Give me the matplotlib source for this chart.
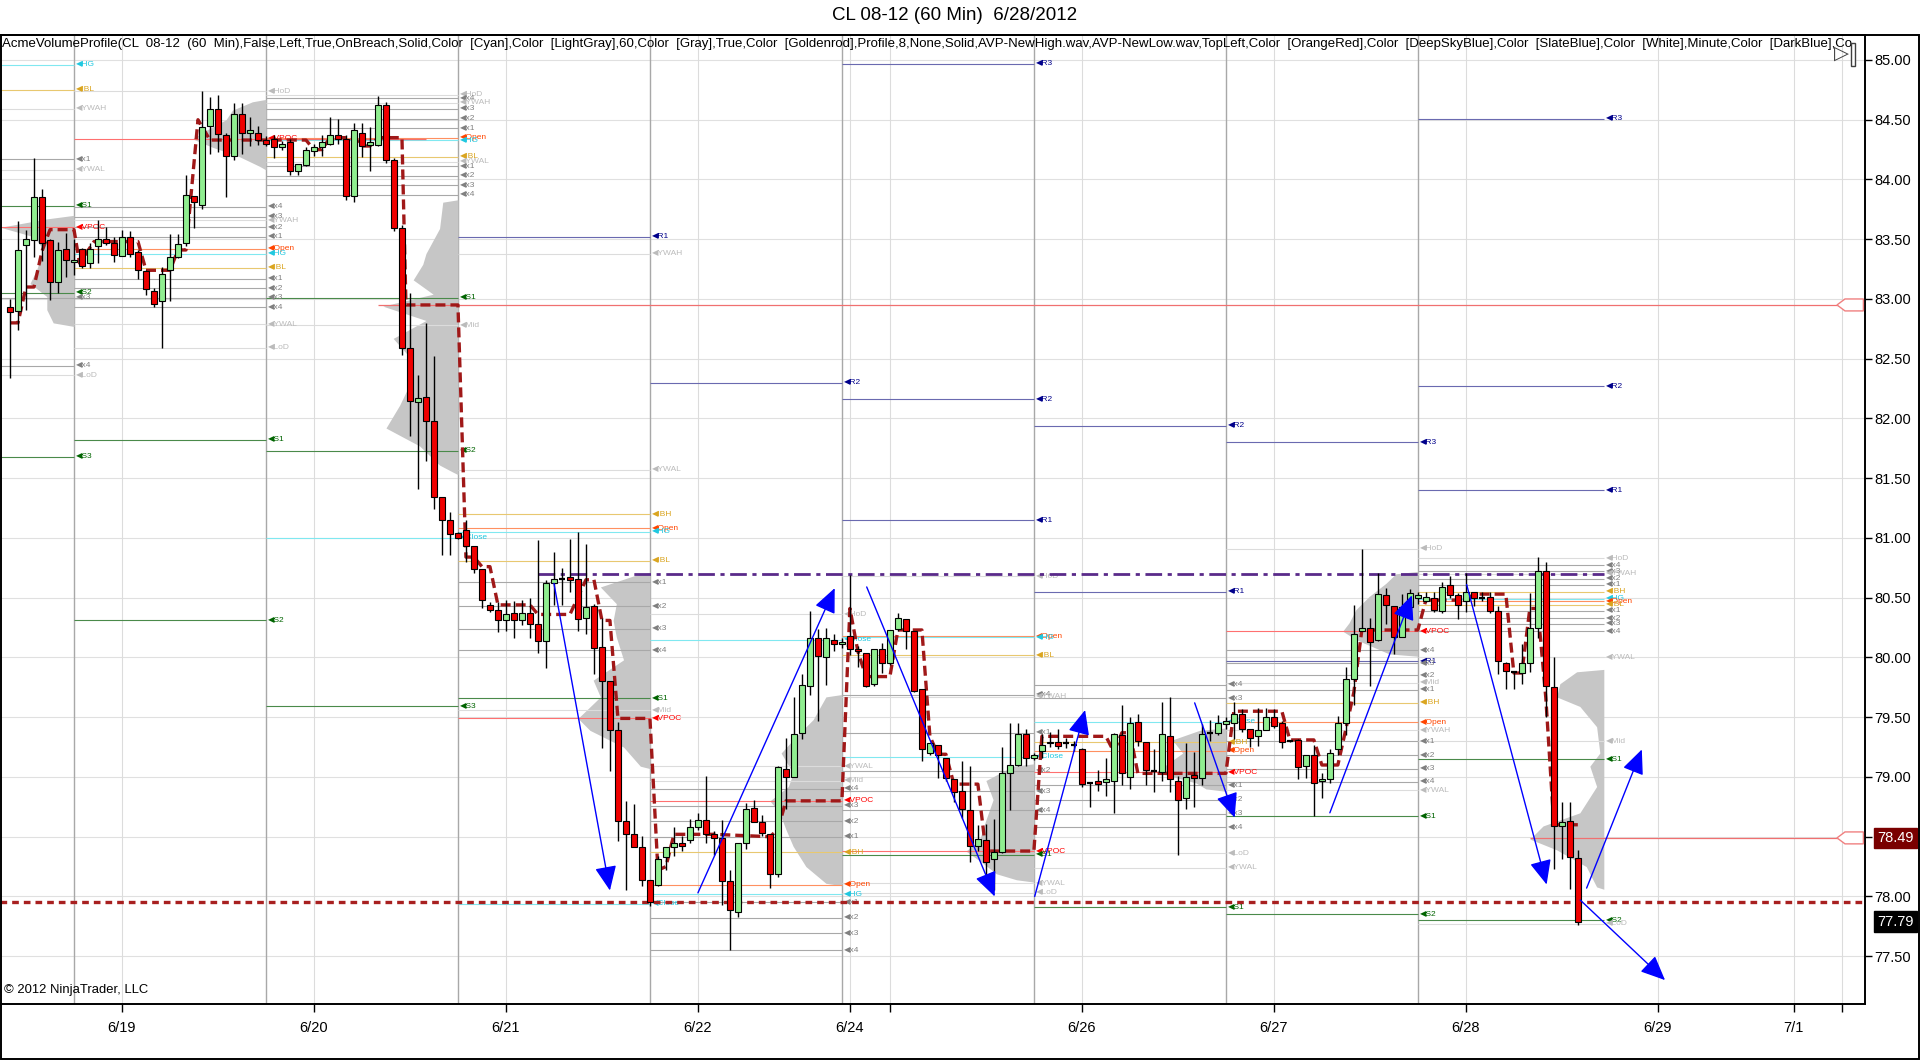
import numpy as np
import matplotlib.pyplot as plt
from matplotlib.patches import Rectangle, Polygon

plt.rcParams['font.family'] = ['Liberation Sans', 'DejaVu Sans']

# bars are hourly, x = hours since the 6/18 18:00 session open
bar_h = np.arange(-8, 189)

opens = [82.93, 82.90, 83.45, 83.49, 83.85, 83.49, 83.14, 83.42,
         83.31, 83.42, 83.30, 83.44, 83.50, 83.47, 83.36, 83.52, 83.39, 83.23,
         83.07, 82.98, 83.24, 83.35, 83.47, 83.86, 83.79, 84.45, 84.59, 84.37,
         84.20, 84.55, 84.39, 84.39, 84.33, 84.34, 84.27, 84.31, 84.07, 84.12,
         84.24, 84.27, 84.30, 84.37, 84.34, 83.86, 84.39, 84.29, 84.29, 84.62,
         84.16, 83.59, 82.59, 82.14, 82.18, 81.98, 81.34, 81.15, 81.04, 81.07,
         80.93, 80.74, 80.44, 80.40, 80.31, 80.37, 80.31, 80.37, 80.28, 80.14,
         80.62, 80.66, 80.67, 80.66, 80.33, 80.43, 80.09, 79.80, 79.39, 78.63,
         78.52, 78.41, 78.14, 78.10, 78.33, 78.41, 78.45, 78.47, 78.58, 78.64,
         78.52, 78.49, 78.13, 77.87, 78.45, 78.74, 78.62, 78.52, 78.19, 79.07,
         79.00, 79.37, 79.76, 80.16, 80.00, 80.15, 80.11, 80.18, 80.07, 80.04,
         79.78, 80.07, 79.95, 80.24, 80.32, 80.22, 79.74, 79.20, 79.27, 79.16,
         78.98, 78.88, 78.72, 78.42, 78.47, 78.31, 78.37, 79.03, 79.10, 79.36,
         79.16, 79.22, 79.28, 79.29, 79.28, 79.27, 79.23, 78.95, 78.97, 78.96,
         78.97, 79.35, 79.00, 79.46, 79.29, 79.05, 79.04, 79.34, 78.97, 78.82,
         79.02, 78.99, 79.37, 79.37, 79.44, 79.45, 79.53, 79.40, 79.34, 79.39,
         79.50, 79.45, 79.30, 79.31, 79.09, 79.18, 78.97, 78.98, 79.23, 79.45,
         79.82, 80.22, 80.25, 80.15, 80.52, 80.43, 80.17, 80.42, 80.50, 80.47,
         80.50, 80.39, 80.61, 80.52, 80.47, 80.55, 80.50, 80.51, 80.39, 79.95,
         79.88, 79.87, 79.95, 80.25, 80.72, 79.75, 78.59, 78.63, 78.32]
highs = [83.00, 83.65, 83.58, 84.18, 83.92, 83.50, 83.48, 83.55,
         83.50, 83.43, 83.47, 83.66, 83.60, 83.52, 83.58, 83.57, 83.41, 83.24,
         83.09, 83.27, 83.54, 83.54, 84.04, 83.86, 84.74, 84.69, 84.71, 84.39,
         84.64, 84.64, 84.52, 84.45, 84.36, 84.37, 84.32, 84.34, 84.13, 84.27,
         84.30, 84.37, 84.52, 84.51, 84.37, 84.47, 84.47, 84.44, 84.70, 84.65,
         84.18, 83.62, 83.05, 82.36, 82.80, 82.52, 81.34, 81.22, 81.05, 81.15,
         80.93, 80.74, 80.46, 80.46, 80.48, 80.47, 80.48, 80.50, 80.98, 80.65,
         80.88, 80.75, 80.99, 81.05, 80.95, 80.45, 80.33, 79.80, 79.46, 78.80,
         78.77, 78.51, 78.14, 78.34, 78.41, 78.58, 78.51, 78.65, 78.70, 79.01,
         78.55, 78.64, 78.22, 78.45, 78.78, 78.81, 78.68, 78.52, 79.09, 79.33,
         79.67, 79.86, 80.39, 80.24, 80.25, 80.20, 80.16, 80.69, 80.10, 80.04,
         80.07, 80.12, 80.23, 80.37, 80.32, 80.22, 79.74, 79.28, 79.27, 79.16,
         78.98, 79.13, 79.09, 78.60, 78.61, 78.65, 79.25, 79.45, 79.45, 79.40,
         79.20, 79.36, 79.38, 79.40, 79.33, 79.30, 79.24, 78.96, 79.06, 79.16,
         79.37, 79.60, 79.50, 79.53, 79.29, 79.23, 79.63, 79.67, 79.01, 79.28,
         79.21, 79.44, 79.48, 79.52, 79.50, 79.63, 79.57, 79.40, 79.58, 79.58,
         79.57, 79.47, 79.31, 79.32, 79.18, 79.27, 79.03, 79.23, 79.51, 79.92,
         80.44, 80.91, 80.33, 80.71, 80.58, 80.43, 80.53, 80.57, 80.55, 80.55,
         80.55, 80.63, 80.68, 80.54, 80.71, 80.55, 80.55, 80.55, 80.43, 79.96,
         79.89, 80.11, 80.54, 80.84, 80.80, 80.00, 78.79, 78.79, 78.39]
lows = [82.34, 82.74, 82.91, 83.35, 83.32, 82.99, 83.05, 83.18,
        83.20, 83.26, 83.26, 83.30, 83.45, 83.31, 83.36, 83.35, 83.17, 83.03,
        82.93, 82.59, 82.98, 83.34, 83.44, 83.59, 83.75, 84.21, 84.23, 83.85,
        84.16, 84.21, 84.28, 84.29, 84.28, 84.18, 84.25, 84.04, 84.04, 84.11,
        84.20, 84.20, 84.29, 84.30, 83.83, 83.81, 84.19, 84.07, 84.28, 84.14,
        83.57, 82.53, 81.85, 81.41, 81.64, 81.24, 80.86, 80.86, 80.99, 80.80,
        80.71, 80.41, 80.38, 80.21, 80.22, 80.16, 80.27, 80.16, 80.04, 79.91,
        80.44, 80.44, 80.55, 80.22, 80.20, 79.86, 79.24, 79.05, 78.46, 78.05,
        78.41, 78.09, 77.92, 78.09, 78.22, 78.34, 78.38, 78.45, 78.56, 78.45,
        78.35, 77.93, 77.55, 77.83, 78.40, 78.62, 78.51, 78.07, 78.16, 78.73,
        79.00, 79.32, 79.69, 79.47, 79.77, 80.05, 80.08, 80.02, 79.92, 79.75,
        79.76, 79.87, 79.94, 80.22, 80.07, 79.71, 79.13, 79.18, 78.99, 78.97,
        78.79, 78.66, 78.29, 78.38, 78.12, 78.05, 78.36, 78.72, 79.09, 79.09,
        79.14, 79.16, 79.25, 79.23, 79.24, 79.22, 78.92, 78.75, 78.88, 78.84,
        78.70, 78.93, 78.90, 79.26, 78.93, 78.87, 78.97, 78.87, 78.35, 78.73,
        78.75, 78.93, 79.30, 79.35, 79.40, 79.32, 79.38, 79.25, 79.26, 79.39,
        79.41, 79.24, 79.29, 78.98, 78.99, 78.67, 78.82, 78.95, 79.18, 79.35,
        79.60, 80.22, 79.76, 80.14, 80.28, 80.03, 80.17, 80.40, 80.45, 80.46,
        80.38, 80.37, 80.50, 80.32, 80.38, 80.43, 80.47, 80.37, 79.86, 79.74,
        79.74, 79.78, 79.88, 80.16, 79.50, 78.23, 78.31, 78.06, 77.76]
closes = [82.89, 83.41, 83.50, 83.85, 83.47, 83.14, 83.41, 83.33,
          83.33, 83.28, 83.42, 83.50, 83.47, 83.37, 83.52, 83.38, 83.24, 83.08,
          82.96, 83.21, 83.35, 83.46, 83.87, 83.81, 84.44, 84.59, 84.38, 84.20,
          84.55, 84.39, 84.41, 84.33, 84.30, 84.27, 84.30, 84.07, 84.13, 84.25,
          84.27, 84.31, 84.37, 84.34, 83.86, 84.41, 84.28, 84.31, 84.62, 84.16,
          83.59, 82.59, 82.15, 82.17, 81.98, 81.34, 81.15, 81.03, 81.00, 80.93,
          80.74, 80.48, 80.40, 80.31, 80.36, 80.31, 80.37, 80.28, 80.14, 80.62,
          80.66, 80.66, 80.65, 80.32, 80.42, 80.08, 79.80, 79.39, 78.63, 78.52,
          78.41, 78.14, 77.95, 78.31, 78.41, 78.45, 78.42, 78.58, 78.64, 78.52,
          78.49, 78.13, 77.89, 78.45, 78.73, 78.62, 78.53, 78.19, 79.08, 79.00,
          79.36, 79.77, 80.16, 80.01, 80.16, 80.11, 80.13, 80.07, 80.05, 79.76,
          80.07, 79.95, 80.23, 80.33, 80.22, 79.72, 79.23, 79.28, 79.18, 78.99,
          78.87, 78.73, 78.42, 78.48, 78.29, 78.37, 79.03, 79.10, 79.36, 79.16,
          79.18, 79.27, 79.29, 79.26, 79.28, 79.27, 78.94, 78.95, 78.94, 78.98,
          79.36, 79.03, 79.45, 79.30, 79.06, 79.05, 79.36, 78.98, 78.81, 79.00,
          78.99, 79.36, 79.37, 79.45, 79.47, 79.53, 79.40, 79.33, 79.39, 79.50,
          79.43, 79.29, 79.30, 79.08, 79.18, 78.95, 78.98, 79.20, 79.45, 79.82,
          80.20, 80.25, 80.13, 80.53, 80.44, 80.17, 80.42, 80.54, 80.52, 80.51,
          80.40, 80.59, 80.52, 80.44, 80.55, 80.50, 80.50, 80.39, 79.97, 79.89,
          79.88, 79.95, 80.25, 80.72, 79.76, 78.59, 78.62, 78.33, 77.79]

# developing VPOC (dashed dark red)
vpoc_h = [-8, -7, -6, -5, -4, -3, 0, 0.7, 2.5, 8, 9, 12, 13, 14, 15.5, 17, 29, 30, 31, 32,
          35, 36, 37, 38, 41, 41.5, 48, 49, 50, 51, 52, 53, 57, 58, 62, 64, 65, 66, 67, 68,
          72, 73, 74, 75, 80, 87, 88, 89, 96, 97, 98, 99, 102, 103, 106, 107, 108, 109, 110,
          113, 114, 120, 121, 129, 130, 131, 132, 133, 144, 145, 151, 152, 155, 156, 158,
          159, 160, 161, 168, 169, 174, 175, 179, 180, 181, 182, 183, 184, 185, 188]
vpoc_p = [82.80, 82.80, 83.10, 83.10, 83.40, 83.58, 83.58, 83.30, 83.48, 83.48, 83.24, 83.24,
          83.41, 83.41, 84.50, 84.33, 84.33, 84.25, 84.25, 84.35, 84.35, 84.28, 84.28, 84.35,
          84.35, 82.95, 82.95, 80.84, 80.84, 80.76, 80.76, 80.44, 80.44, 80.36, 80.36, 80.65,
          80.65, 80.31, 80.31, 79.49, 79.49, 78.22, 78.25, 78.52, 78.52, 78.50, 78.56, 78.80,
          78.80, 80.41, 80.05, 79.84, 79.84, 80.23, 80.23, 79.34, 79.19, 79.19, 78.94, 78.94,
          78.38, 78.38, 79.34, 79.34, 79.21, 79.37, 79.37, 79.03, 79.03, 79.55, 79.55, 79.31,
          79.31, 79.10, 79.10, 79.40, 79.71, 80.23, 80.23, 80.48, 80.48, 80.53, 80.53, 79.87,
          79.87, 80.41, 80.41, 79.66, 78.60, 78.60]

# session level labels, one list pair per session line
col00_p = [84.96, 84.75, 84.59, 84.17, 84.08, 83.78, 83.60, 83.05, 83.01, 82.44, 82.36, 81.68]
col00_t = ['HG', 'IBL', 'YWAH', 'x1', 'YWAL', 'S1', 'VPOC', 'S2', 'x3', 'x4', 'LoD', 'S3']
col24_p = [84.74, 84.34, 83.77, 83.69, 83.66, 83.60, 83.52, 83.42, 83.38, 83.26, 83.17, 83.09,
           83.01, 82.93, 82.79, 82.59, 81.82, 80.31]
col24_t = ['HoD', 'VPOC', 'x4', 'x3', 'YWAH', 'x2', 'x1', 'Open', 'HG', 'IBL', 'x1', 'x2',
           'x3', 'x4', 'YWAL', 'LoD', 'S1', 'S2']
col48_p = [84.71, 84.68, 84.64, 84.59, 84.51, 84.43, 84.35, 84.33, 84.19, 84.15, 84.11, 84.03,
           83.95, 83.87, 83.01, 82.78, 81.73, 81.00, 79.59]
col48_t = ['HoD', 'x4', 'YWAH', 'x3', 'x2', 'x1', 'Open', 'HG', 'IBL', 'YWAL', 'x1', 'x2',
           'x3', 'x4', 'S1', 'Mid', 'S2', 'Close', 'S3']
col72_p = [83.52, 83.38, 81.57, 81.20, 81.08, 81.05, 80.81, 80.63, 80.43, 80.24, 80.06, 79.66,
           79.56, 79.49, 77.94]
col72_t = ['R1', 'YWAH', 'YWAL', 'IBH', 'Open', 'HG', 'IBL', 'x1', 'x2', 'x3', 'x4', 'S1',
           'Mid', 'VPOC', 'Close']
col96_p = [82.30, 80.36, 80.15, 79.09, 78.97, 78.90, 78.80, 78.76, 78.63, 78.50, 78.37, 78.10,
           78.02, 77.95, 77.82, 77.69, 77.55]
col96_t = ['R2', 'HoD', 'Close', 'YWAL', 'Mid', 'x4', 'VPOC', 'x3', 'x2', 'x1', 'IBH', 'Open',
           'HG', 'x1', 'x2', 'x3', 'x4']
col120_p = [84.97, 82.16, 81.15, 80.68, 80.18, 80.17, 80.02, 79.69, 79.67, 79.37, 79.17, 79.05,
            78.88, 78.72, 78.38, 78.35, 78.11, 78.03]
col120_t = ['R3', 'R2', 'R1', 'HoD', 'Open', 'HG', 'IBL', 'x4', 'YWAH', 'x1', 'Close', 'x2',
            'x3', 'x4', 'VPOC', 'S1', 'YWAL', 'LoD']
col144_p = [81.94, 80.55, 79.77, 79.66, 79.46, 79.29, 79.22, 79.04, 78.93, 78.81, 78.69, 78.58,
            78.36, 78.24, 77.91]
col144_t = ['R2', 'R1', 'x4', 'x3', 'Close', 'IBH', 'Open', 'VPOC', 'x1', 'x2', 'x3', 'x4',
            'LoD', 'YWAL', 'S1']
col168_p = [81.80, 80.91, 80.22, 80.06, 79.97, 79.95, 79.85, 79.79, 79.73, 79.62, 79.46, 79.39,
            79.30, 79.18, 79.07, 78.96, 78.89, 78.67, 77.85]
col168_t = ['R3', 'HoD', 'VPOC', 'x4', 'R1', 'x3', 'x2', 'Mid', 'x1', 'IBH', 'Open', 'YWAH',
            'x1', 'x2', 'x3', 'x4', 'YWAL', 'S1', 'S2']
col191_p = [84.51, 82.27, 81.40, 80.83, 80.77, 80.72, 80.70, 80.66, 80.61, 80.55, 80.49, 80.47,
            80.44, 80.39, 80.33, 80.28, 80.22, 80.00, 79.30, 79.15, 77.80, 77.77]
col191_t = ['R3', 'R2', 'R1', 'HoD', 'x4', 'x3', 'YWAH', 'x2', 'x1', 'IBH', 'HG', 'Open', 'IBL',
            'x1', 'x2', 'x3', 'x4', 'YWAL', 'Mid', 'S1', 'S2', 'LoD']

col_h = [0, 24, 48, 72, 96, 120, 144, 168, 191.25]
col_prices = [col00_p, col24_p, col48_p, col72_p, col96_p, col120_p, col144_p, col168_p, col191_p]
col_texts = [col00_t, col24_t, col48_t, col72_t, col96_t, col120_t, col144_t, col168_t, col191_t]

# volume profiles: anchor (right edge), price levels, width in bars
prof_anchor = [0, 24, 48, 72, 96, 120, 144, 168, 191.25]
prof_p = [
    [83.70, 83.67, 83.60, 83.52, 83.41, 83.24, 83.13, 83.02, 82.91, 82.80, 82.77],
    [84.67, 84.65, 84.58, 84.50, 84.41, 84.34, 84.27, 84.19, 84.11, 84.08],
    [83.83, 83.81, 83.59, 83.38, 83.29, 83.16, 83.04, 82.94, 82.82, 82.67, 82.48, 82.29,
     82.11, 81.92, 81.77, 81.61, 81.55, 81.53],
    [80.71, 80.69, 80.59, 80.45, 80.31, 80.17, 79.98, 79.81, 79.67, 79.49, 79.39, 79.25,
     79.09, 79.07],
    [79.69, 79.67, 79.48, 79.34, 79.20, 79.03, 78.92, 78.80, 78.70, 78.56, 78.42, 78.25,
     78.11, 78.09],
    [79.11, 79.09, 78.97, 78.81, 78.64, 78.47, 78.38, 78.28, 78.19, 78.14, 78.12],
    [79.41, 79.39, 79.31, 79.20, 79.04, 78.95, 78.90, 78.88],
    [80.72, 80.70, 80.62, 80.51, 80.40, 80.29, 80.22, 80.15, 80.03, 80.01],
    [79.90, 79.88, 79.78, 79.67, 79.59, 79.42, 79.20, 79.09, 78.92, 78.70, 78.59, 78.48,
     78.39, 78.25, 78.08, 78.06],
]
prof_w = [
    [0, 3.4, 9.2, 5.0, 3.8, 4.7, 5.5, 3.4, 3.4, 2.6, 0],
    [0, 1.7, 4.2, 5.0, 7.5, 9.2, 6.7, 3.3, 0.8, 0],
    [0, 1.9, 2.3, 4.0, 4.4, 5.6, 3.1, 9.4, 4.0, 8.1, 5.6, 6.0, 7.3, 9.0, 4.8, 2.3, 0.6, 0],
    [0, 1.7, 6.2, 4.2, 4.6, 4.2, 3.3, 7.1, 6.2, 9.0, 7.5, 3.3, 1.2, 0],
    [0, 2.0, 3.6, 5.7, 7.6, 6.1, 6.7, 9.0, 7.8, 7.0, 6.1, 4.5, 2.0, 0],
    [0, 2.6, 6.0, 5.1, 6.0, 6.8, 8.5, 6.4, 4.7, 2.2, 0],
    [0, 3.3, 6.7, 5.4, 8.75, 3.75, 2.5, 0],
    [0, 2.75, 4.0, 6.1, 7.75, 8.6, 9.4, 7.75, 3.6, 0],
    [0, 3.4, 5.5, 5.9, 3.0, 0.9, 0.5, 1.75, 0.9, 3.0, 7.6, 9.25, 5.9, 2.2, 0.9, 0],
]

# naked VPOC lines
naked_p = [84.34, 82.95, 78.49]
naked_h0 = [24, 38, 182]
naked_h1 = [44, 223.9, 223.9]

# hand-drawn arrows
arr_h0 = [60.0, 78.0, 99.1, 120.1, 140.1, 157.0, 174.1, 189.1, 188.3]
arr_p0 = [80.62, 78.03, 80.59, 78.00, 79.62, 78.70, 80.61, 78.07, 77.97]
arr_h1 = [67.0, 95.1, 115.1, 126.4, 145.1, 167.25, 184.1, 196.0, 198.9]
arr_p1 = [78.05, 80.58, 78.00, 79.56, 78.66, 80.52, 78.10, 79.23, 77.30]

sessions = [0, 24, 48, 72, 96, 120, 144, 168]
date_pos = [6, 30, 54, 78, 97, 102, 126, 150, 174, 198, 215, 221]
date_lab = ['6/19', '6/20', '6/21', '6/22', '6/24', '', '6/26', '6/27', '6/28', '6/29', '7/1', '']
last_price = 77.79


def level_colors(t):
    if t.startswith('x'):
        return '#A8A8A8', '#808080'
    if t in ('HoD', 'LoD', 'YWAH', 'YWAL', 'Mid'):
        return '#DCDCDC', '#BBBBBB'
    if t == 'Open':
        return '#FF9060', '#FF4500'
    if t in ('HG', 'Close'):
        return '#80E8F0', '#20C8E0'
    if t in ('IBL', 'IBH'):
        return '#E8C870', '#DAA520'
    if t == 'VPOC':
        return '#FF7070', '#FF0000'
    if t.startswith('S'):
        return '#4A8A4A', '#006400'
    return '#6A6AB0', '#00008B'


fig = plt.figure(figsize=(19.2, 10.6), dpi=100)
ax = fig.add_axes([0, 56 / 1060, 1865 / 1920, 969 / 1060])
ax.set_xlim(-9.25, 223.9)
ax.set_ylim(77.10, 85.209)

# grid
for p in np.arange(77.5, 85.01, 0.5):
    ax.axhline(p, color='#E0E0E0', lw=0.8, zorder=0)
for d in date_pos:
    ax.axvline(d, color='#DCDCDC', lw=0.8, zorder=0)
for s in sessions:
    ax.axvline(s, color='#A8A8A8', lw=1.0, zorder=0.5)

# volume profiles
for a, pp, ww in zip(prof_anchor, prof_p, prof_w):
    ww = np.array(ww)
    ax.fill_betweenx(pp, a - ww, a, color='#C6C6C6', lw=0, zorder=1)

# levels
for hc, prices, texts in zip(col_h, col_prices, col_texts):
    start = 168 if hc > 190 else hc - 24
    for p, t in zip(prices, texts):
        lc, tc = level_colors(t)
        ax.hlines(p, start, hc, color=lc, lw=0.8, zorder=2)
        ax.text(hc + 0.25, p, '\u25c0' + t, color=tc, fontsize=6, va='center', ha='left',
                zorder=3, clip_on=True)

for p, a, b in zip(naked_p, naked_h0, naked_h1):
    ax.hlines(p, a, b, color='#F07070', lw=0.9, zorder=2)

ax.axhline(77.95, color='#A82020', lw=2.4, ls=(0, (2, 1.5)), zorder=4)
ax.hlines(80.70, 58, 191.25, color='#5A2A8A', lw=2.0, ls=(0, (6, 2, 1.5, 2)), zorder=4)

ax.plot(vpoc_h, vpoc_p, color='#A01818', lw=2.4, ls=(0, (3, 1.5)), zorder=4)

# candles
o = np.array(opens)
h = np.array(highs)
l = np.array(lows)
c = np.array(closes)
ax.vlines(bar_h, l, h, color='black', lw=1.0, zorder=5)
up = c > o
dn = c < o
eq = c == o
ax.bar(bar_h[up], c[up] - o[up], bottom=o[up], width=0.74, color='#90EE90',
       edgecolor='black', lw=0.8, zorder=6)
ax.bar(bar_h[dn], o[dn] - c[dn], bottom=c[dn], width=0.74, color='#F00000',
       edgecolor='black', lw=0.8, zorder=6)
ax.hlines(c[eq], bar_h[eq] - 0.37, bar_h[eq] + 0.37, color='black', lw=1.6, zorder=6)

# arrows
for x0, y0, x1, y1 in zip(arr_h0, arr_p0, arr_h1, arr_p1):
    ax.annotate('', xy=(x1, y1), xytext=(x0, y0),
                arrowprops=dict(arrowstyle='-|>,head_length=0.95,head_width=0.42',
                                color='#0000FF', lw=1.0, mutation_scale=16,
                                shrinkA=0, shrinkB=0), zorder=7)

# right edge markers
for p in naked_p[1:]:
    ax.add_patch(Polygon([(220.4, p), (221.4, p + 0.05), (223.7, p + 0.05),
                          (223.7, p - 0.05), (221.4, p - 0.05)], closed=True,
                         fc='white', ec='#F08080', lw=1.0, zorder=8))

ax.text(220.0, 85.05, '\u25b7', fontsize=14, va='center', ha='left', color='#404040', zorder=10)
ax.add_patch(Rectangle((222.2, 84.95), 0.5, 0.19, fc='white', ec='#404040', lw=1.0, zorder=10))

# axes styling
ax.yaxis.tick_right()
ax.set_yticks(np.arange(77.5, 85.01, 0.5))
ax.set_yticklabels(['%.2f' % v for v in np.arange(77.5, 85.01, 0.5)])
ax.tick_params(axis='y', direction='out', length=5, width=1, labelsize=10.5, pad=2)
ax.set_xticks(date_pos)
ax.set_xticklabels(date_lab)
ax.tick_params(axis='x', direction='out', length=6, width=1, labelsize=10.5, pad=6)
ax.spines['left'].set_visible(False)
for k in ('top', 'right', 'bottom'):
    ax.spines[k].set_linewidth(1.4)

ax.annotate('78.49', xy=(1.0, 78.49), xycoords=('axes fraction', 'data'), xytext=(9, 0),
            textcoords='offset points', ha='left', va='center', color='white', fontsize=10.5,
            bbox=dict(boxstyle='square,pad=0.22', fc='#7A0000', ec='#7A0000'),
            annotation_clip=False, zorder=10)
ax.annotate('%.2f' % last_price, xy=(1.0, last_price), xycoords=('axes fraction', 'data'),
            xytext=(9, 0), textcoords='offset points', ha='left', va='center', color='white',
            fontsize=10.5, bbox=dict(boxstyle='square,pad=0.22', fc='black', ec='black'),
            annotation_clip=False, zorder=10)

header = ('AcmeVolumeProfile(CL  08-12  (60  Min),False,Left,True,OnBreach,Solid,Color  [Cyan],'
          'Color  [LightGray],60,Color  [Gray],True,Color  [Goldenrod],Profile,8,None,Solid,'
          'AVP-NewHigh.wav,AVP-NewLow.wav,TopLeft,Color  [OrangeRed],Color  [DeepSkyBlue],'
          'Color  [SlateBlue],Color  [White],Minute,Color  [DarkBlue],Co')
ax.text(0.001, 1 - 3 / 969, header, transform=ax.transAxes, fontsize=9.5, va='top', ha='left',
        clip_on=True, zorder=9)
ax.text(0.002, 0.008, '\u00a9 2012 NinjaTrader, LLC', transform=ax.transAxes, fontsize=9.4,
        va='bottom', ha='left', zorder=9)

fig.text(0.497, 1 - 16 / 1060, 'CL 08-12 (60 Min)  6/28/2012', ha='center', va='center',
         fontsize=13.5)
fig.patches.append(Rectangle((0.0005, 0.0009), 0.999, 1 - 35 / 1060 - 0.0009,
                             transform=fig.transFigure, fill=False, ec='black', lw=1.4))

fig.savefig('out.png', dpi=100)
